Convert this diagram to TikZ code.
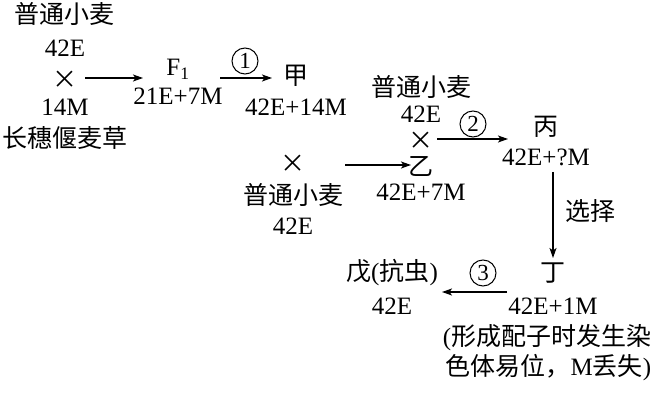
\documentclass[tikz,border=0pt]{standalone}
\usepackage{fontspec}
\setmainfont{Liberation Serif}
\newfontfamily\cjk{Noto Sans CJK SC}
\usetikzlibrary{arrows.meta}
\newcommand\zh[1]{{\cjk #1}}
\newcommand\crs{{\cjk\fontsize{25}{25}\selectfont ×}}
\tikzset{
 lbl/.style={inner sep=0pt, font=\fontsize{25}{30}\selectfont},
 num/.style={circle, draw, line width=1pt, minimum size=26pt, inner sep=0pt, font=\fontsize{23}{23}\selectfont},
 arr/.style={line width=1.2pt, -{Stealth[length=10pt,width=7pt,inset=2.5pt]}},
}
\begin{document}
\begin{tikzpicture}[x=1pt,y=-1pt]
\useasboundingbox[fill=white] (0,0) rectangle (656,406);
% left cross
\node[lbl] (w1) at (64,14) {\zh{普通小麦}};
\node[lbl] (w1g) at (65,48) {42E};
\node[lbl] (x1) at (65,80) {\crs};
\node[lbl] (m1g) at (65,107) {14M};
\node[lbl] (m1) at (65,138) {\zh{长穗偃麦草}};
% F1
\node[lbl] (f1) at (178,69) {F\textsubscript{1}};
\node[lbl] (f1g) at (178,96) {21E+7M};
% jia
\node[lbl] (jia) at (296,76) {\zh{甲}};
\node[lbl] (jiag) at (296,107) {42E+14M};
\node[num] (n1) at (245,61) {1};
% second cross
\node[lbl] (x2) at (293,164) {\crs};
\node[lbl] (w2) at (293,195) {\zh{普通小麦}};
\node[lbl] (w2g) at (293,226) {42E};
% yi with wheat
\node[lbl] (w3) at (421,87) {\zh{普通小麦}};
\node[lbl] (w3g) at (421,114) {42E};
\node[lbl] (x3) at (421,141) {\crs};
\node[lbl] (yi) at (421,166) {\zh{乙}};
\node[lbl] (yig) at (421,192) {42E+7M};
% bing
\node[num] (n2) at (473,124) {2};
\node[lbl] (bing) at (546,127) {\zh{丙}};
\node[lbl] (bingg) at (546,157) {42E+?M};
\node[lbl] (sel) at (590,211) {\zh{选择}};
% ding
\node[lbl] (ding) at (553,273) {\zh{丁}};
\node[lbl] (dingg) at (553,306) {42E+1M};
\node[lbl, align=right] (note) at (547,353) {(\zh{形成配子时发生染}\\\zh{色体易位，}M\zh{丢失})};
% wu
\node[lbl] (wu) at (392,273) {\zh{戊}(\zh{抗虫})};
\node[lbl] (wug) at (392,306) {42E};
\node[num] (n3) at (483,273) {3};
% arrow end points
\coordinate (a1s) at (85,78);
\coordinate (a1e) at (143,78);
\coordinate (a2s) at (220,78);
\coordinate (a2e) at (272,78);
\coordinate (a3s) at (345,165);
\coordinate (a3e) at (411,165);
\coordinate (a4s) at (437,139);
\coordinate (a4e) at (508,139);
\coordinate (a5s) at (553,172);
\coordinate (a5e) at (553,258);
\coordinate (a6s) at (507,292);
\coordinate (a6e) at (442,292);
\draw[arr] (a1s) -- (a1e);
\draw[arr] (a2s) -- (a2e);
\draw[arr] (a3s) -- (a3e);
\draw[arr] (a4s) -- (a4e);
\draw[arr] (a5s) -- (a5e);
\draw[arr] (a6s) -- (a6e);
\end{tikzpicture}
\end{document}
